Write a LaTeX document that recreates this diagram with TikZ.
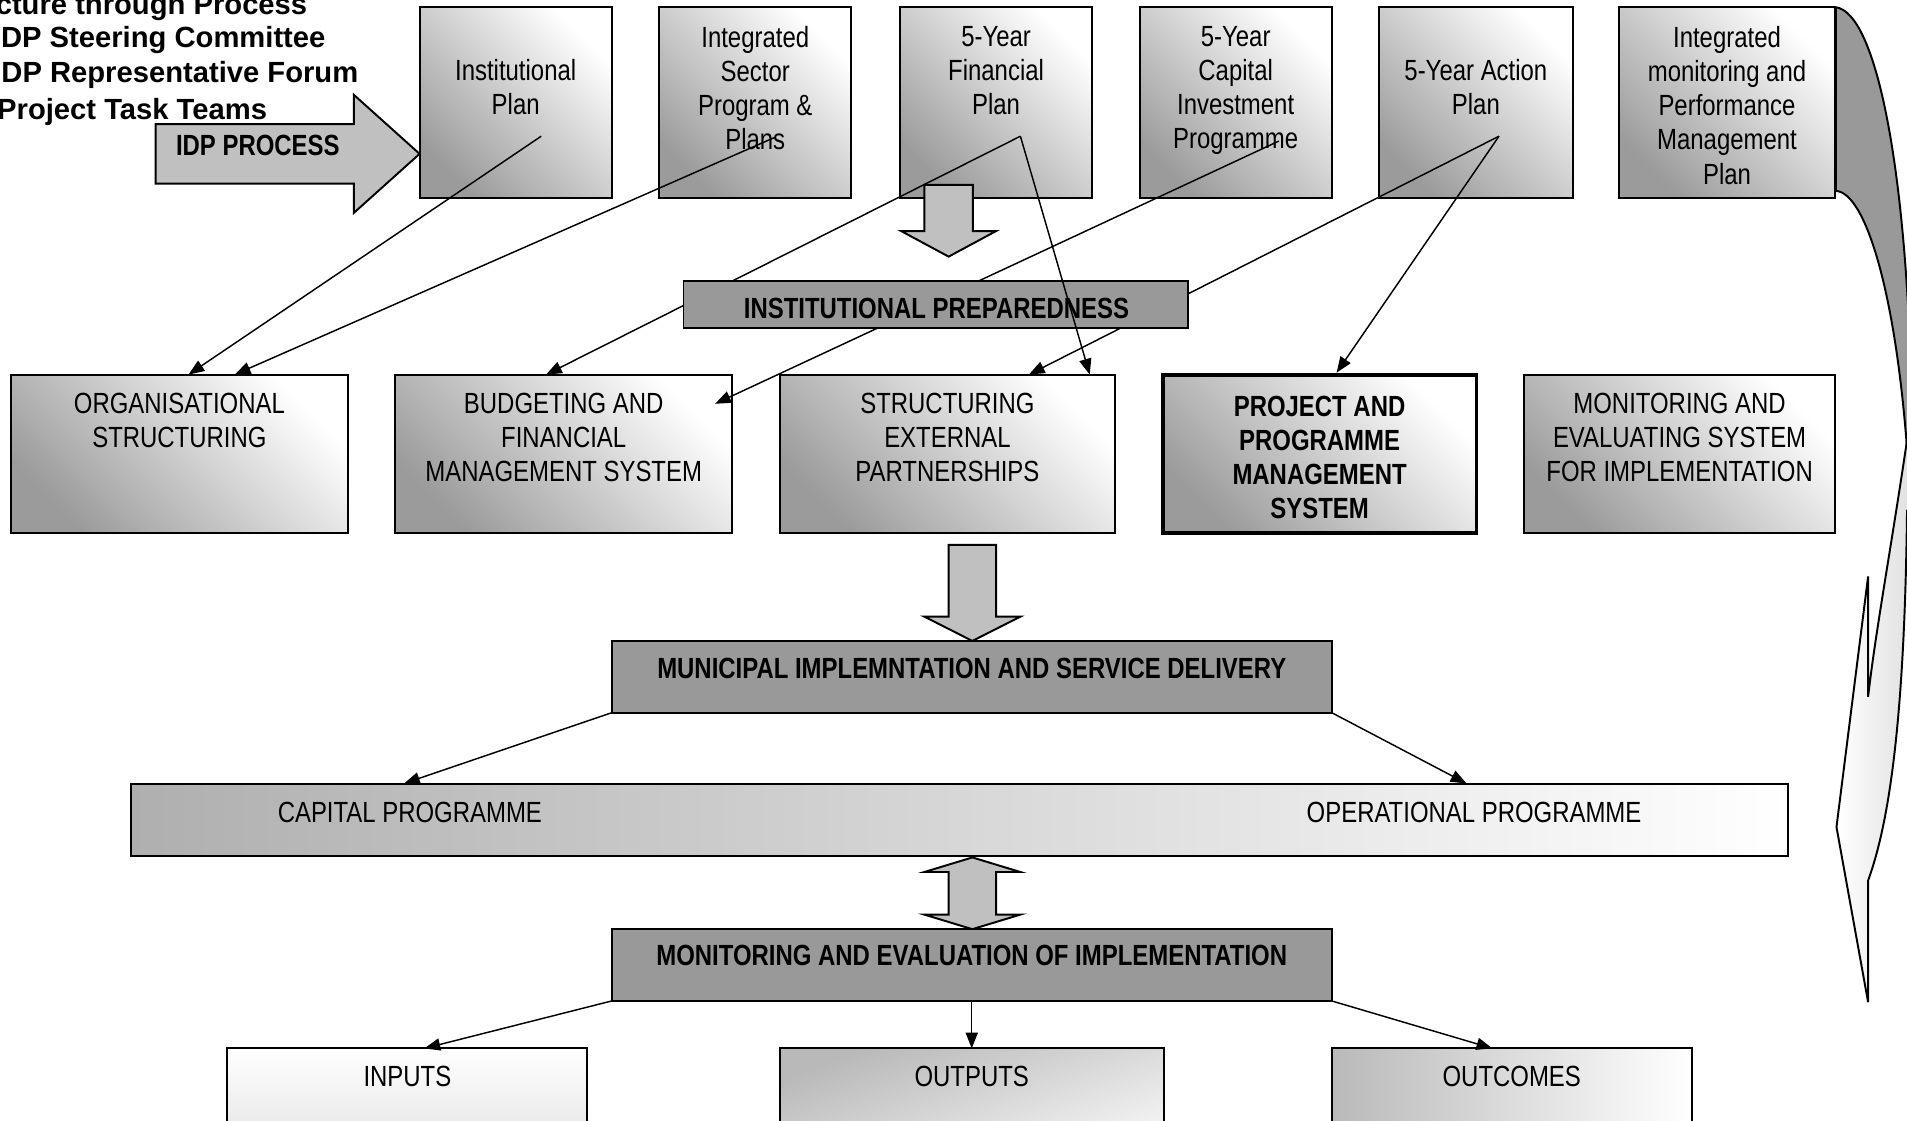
\documentclass[tikz,border=0pt]{standalone}
\usepackage{fontspec}
\usepackage{xcolor}
\usepackage{tikz}
\usetikzlibrary{arrows.meta,positioning}
\newfontfamily\arialfont{Liberation Sans}
\newfontfamily\narrowfont[FakeStretch=0.82]{Liberation Sans}
\newcommand{\boxfont}{\narrowfont\fontsize{12}{14}\selectfont}
\newcommand{\boxbold}{\narrowfont\bfseries\fontsize{12}{14}\selectfont}
\definecolor{colorShade}{RGB}{155,155,155}
\definecolor{colorStage}{RGB}{153,153,153}
\definecolor{colorBlock}{RGB}{192,192,192}
\definecolor{colorLight}{RGB}{215,215,215}
\tikzstyle{plan}=[draw, line width=0.8pt, inner sep=0pt, outer sep=0pt, minimum width=79pt, minimum height=78.5pt, top color=white, bottom color=colorShade, shading angle=-45]
\tikzstyle{system}=[plan, minimum width=138.5pt, minimum height=65pt]
\tikzstyle{stage}=[draw, line width=0.8pt, fill=colorStage, inner sep=0pt, outer sep=0pt, minimum height=29.5pt]
\tikzstyle{result}=[draw, line width=0.8pt, inner sep=0pt, outer sep=0pt, minimum width=148pt, minimum height=60pt]
\tikzstyle{lab}=[font=\boxfont, align=center, inner sep=0pt]
\tikzstyle{blab}=[font=\boxbold, align=center, inner sep=0pt]
\tikzstyle{head}=[font=\arialfont\bfseries\fontsize{12}{14}\selectfont, anchor=base east, inner sep=0pt]
\tikzstyle{link}=[line width=0.6pt, -{Triangle[length=6.5pt,width=5pt]}]
\tikzstyle{block}=[draw, line width=0.8pt, fill=colorBlock, line join=miter]

\begin{document}
\begin{tikzpicture}[x=0.5pt, y=-0.5pt, node distance=19.5pt]
\useasboundingbox (0,0) rectangle (1568,921);
\clip (0,0) rectangle (1568,921);

% structure
\node (titleProcess) [head] at (253,12) {cture through Process};
\node (titleSteering) [head] at (268,39) {DP Steering Committee};
\node (titleForum) [head] at (295,68) {DP Representative Forum};
\node (titleTeams) [head] at (220,98) {Project Task Teams};

% idp process arrow
\draw [block] (128,102) -- (291,102) -- (291,78) -- (345,126.5) -- (291,175) -- (291,151) -- (128,151) -- cycle;
\node (idpText) [blab] at (212,119.5) {IDP PROCESS};

% outputs of the idp
\node (instPlan) [plan] at (424,84.5) {};
\node (sectorPlan) [plan, right=19.5pt of instPlan] {};
\node (finPlan) [plan, right=20pt of sectorPlan] {};
\node (capPlan) [plan, right=19.5pt of finPlan] {};
\node (actionPlan) [plan, minimum width=79.5pt, right=19.5pt of capPlan] {};
\node (monPlan) [plan, minimum width=89pt, right=19pt of actionPlan] {};
\node (instPlanText) [lab, below=21.25pt of instPlan.north] {Institutional\\Plan};
\node (sectorPlanText) [lab, below=7.75pt of sectorPlan.north] {Integrated\\Sector\\Program \&\\Plans};
\node (finPlanText) [lab, below=7.75pt of finPlan.north] {5-Year\\Financial\\Plan};
\node (capPlanText) [lab, below=7.75pt of capPlan.north] {5-Year\\Capital\\Investment\\Programme};
\node (actionPlanText) [lab, below=21.25pt of actionPlan.north] {5-Year Action\\Plan};
\node (monPlanText) [lab, below=7.75pt of monPlan.north] {Integrated\\monitoring and\\Performance\\Management\\Plan};

% big return arrow
\filldraw [line width=0.8pt, fill=colorStage] (1509.5,6) .. controls (1540,10) and (1565,120) .. (1571,300) -- (1590,300) -- (1590,400) -- (1570,400) .. controls (1562,250) and (1535,158) .. (1509.5,157) -- cycle;
\shadedraw [left color=white, right color=colorLight, line width=0.8pt, line join=miter] (1590,360) -- (1568,362) .. controls (1555,450) and (1542,520) .. (1536,573) -- (1536,474) -- (1510,680) -- (1536,824) -- (1536,724) .. controls (1552,680) and (1566,600) .. (1568,420) -- (1590,420) -- cycle;

% preparedness systems
\node (orgStruct) [system] at (147.5,373) {};
\node (budgetSys) [system, right=19.5pt of orgStruct] {};
\node (partnerSys) [system, minimum width=138pt, right=19.5pt of budgetSys] {};
\node (projectSys) [system, minimum width=129pt, line width=1.6pt, right=19.5pt of partnerSys] {};
\node (monSys) [system, minimum width=128pt, right=19.5pt of projectSys] {};
\node (orgStructText) [lab, below=7.25pt of orgStruct.north] {ORGANISATIONAL\\STRUCTURING};
\node (budgetSysText) [lab, below=7.25pt of budgetSys.north] {BUDGETING AND\\FINANCIAL\\MANAGEMENT SYSTEM};
\node (partnerSysText) [lab, below=7.25pt of partnerSys.north] {STRUCTURING\\EXTERNAL\\PARTNERSHIPS};
\node (projectSysText) [blab, below=8.75pt of projectSys.north] {PROJECT AND\\PROGRAMME\\MANAGEMENT\\SYSTEM};
\node (monSysText) [lab, below=7.25pt of monSys.north] {MONITORING AND\\EVALUATING SYSTEM\\FOR IMPLEMENTATION};

% links from the plans
\coordinate (instOut) at ([xshift=10.5pt,yshift=-13.75pt]instPlan.center);
\coordinate (sectorOut) at ([xshift=8pt,yshift=-14.25pt]sectorPlan.center);
\coordinate (finOut) at ([xshift=10pt,yshift=-13.75pt]finPlan.center);
\coordinate (capOut) at ([xshift=17.75pt,yshift=-15.75pt]capPlan.center);
\coordinate (actionOut) at ([xshift=9.5pt,yshift=-13.75pt]actionPlan.center);
\draw [link] (instOut) -- ([xshift=73pt]orgStruct.north west);
\draw [link] (sectorOut) -- ([xshift=92pt]orgStruct.north west);
\draw [link] (finOut) -- ([xshift=62pt]budgetSys.north west);
\draw [link] (capOut) -- ([xshift=-7pt,yshift=-12pt]budgetSys.north east);
\draw [link] (actionOut) -- ([xshift=102.5pt]partnerSys.north west);
\draw [link] (actionOut) -- ([xshift=71.5pt,yshift=0.8pt]projectSys.north west);

\node (prepStage) [stage, minimum width=207.5pt, minimum height=19.5pt] at (769.5,250.5) {};
\node (prepText) [blab] at (770,254) {INSTITUTIONAL PREPAREDNESS};
\draw [link] (finOut) -- ([xshift=-10.5pt]partnerSys.north east);
\draw [block] (760,152) -- (800,152) -- (800,190) -- (819,190) -- (780,211) -- (741,190) -- (760,190) -- cycle;

% implementation
\draw [block] (780,448) -- (819,448) -- (819,507) -- (839,507) -- (799.5,527) -- (760,507) -- (780,507) -- cycle;
\node (deliveryStage) [stage, minimum width=296pt] at (799,556.5) {};
\node (deliveryText) [blab] at (799,550) {MUNICIPAL IMPLEMNTATION AND SERVICE DELIVERY};
\node (programmeBand) [draw, line width=0.8pt, inner sep=0pt, minimum width=681pt, minimum height=29.5pt, left color=colorShade!80, right color=white] at (789,674.5) {};
\node (capitalText) [lab] at (337,668) {CAPITAL PROGRAMME};
\node (operationalText) [lab] at (1212,668) {OPERATIONAL PROGRAMME};
\draw [link] (deliveryStage.south west) -- ([xshift=112.5pt]programmeBand.north west);
\draw [link] (deliveryStage.south east) -- ([xshift=-132.5pt]programmeBand.north east);
\draw [block] (799.5,705) -- (839,717) -- (819,717) -- (819,752) -- (839,752) -- (799.5,764) -- (760,752) -- (780,752) -- (780,717) -- (760,717) -- cycle;

% monitoring
\node (evalStage) [stage, minimum width=296pt] at (799,793.5) {};
\node (evalText) [blab] at (799,786) {MONITORING AND EVALUATION OF IMPLEMENTATION};
\node (inputsBox) [result, top color=white, bottom color=colorLight] at (335,922) {};
\node (outputsBox) [result, minimum width=158pt, top color=colorShade!70, bottom color=white, shading angle=20] at (799,922) {};
\node (outcomesBox) [result, left color=colorShade!70, right color=white] at (1243,922) {};
\node (inputsText) [lab] at (335,885) {INPUTS};
\node (outputsText) [lab] at (799,885) {OUTPUTS};
\node (outcomesText) [lab] at (1243,885) {OUTCOMES};
\draw [link] (evalStage.south west) -- ([xshift=7pt]inputsBox.north);
\draw [link] (evalStage.south) -- (outputsBox.north);
\draw [link] (evalStage.south east) -- ([xshift=-8pt]outcomesBox.north);

\end{tikzpicture}
\end{document}
